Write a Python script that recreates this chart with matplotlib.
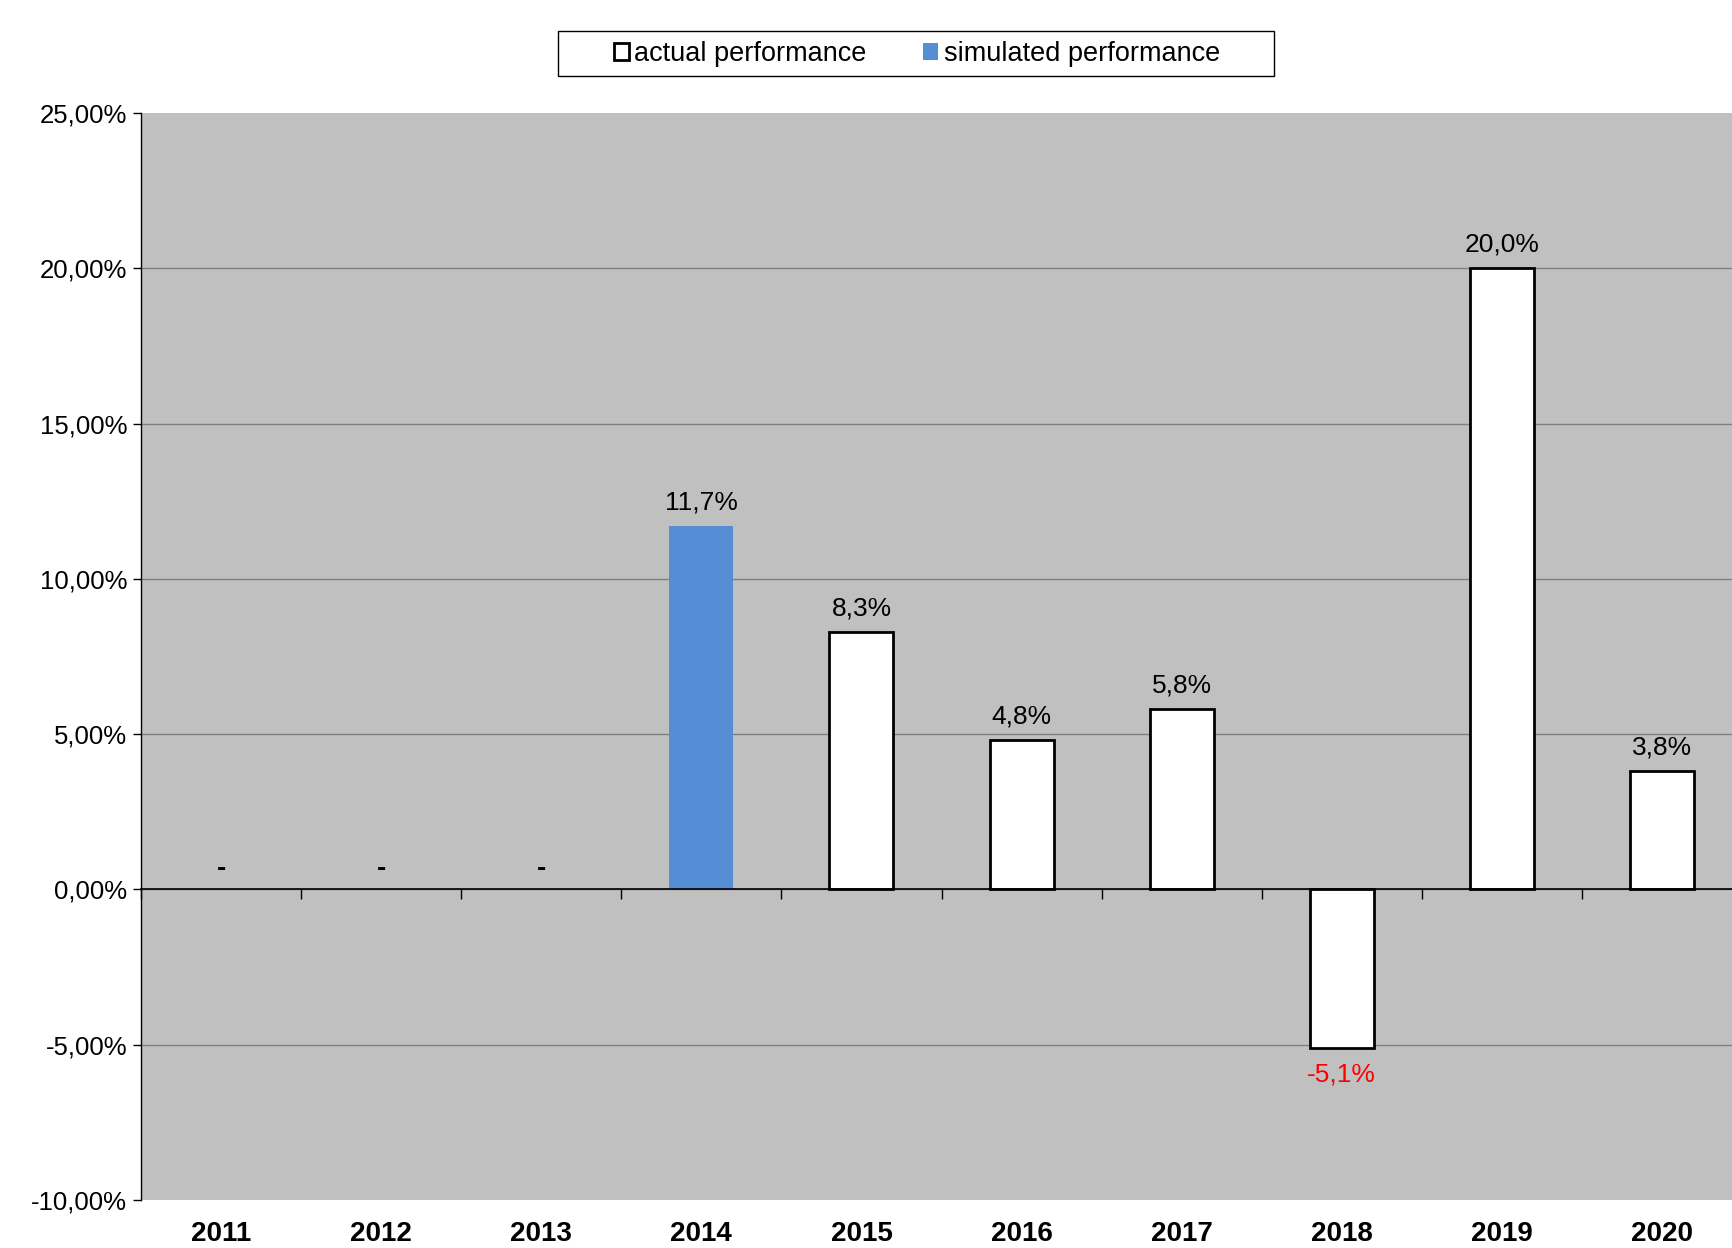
import matplotlib
matplotlib.use("Agg")
import matplotlib.pyplot as plt
from matplotlib.patches import Patch, Rectangle
import numpy as np

plt.rcParams["font.family"] = ["Liberation Sans", "DejaVu Sans"]

years = ["2011", "2012", "2013", "2014", "2015", "2016", "2017", "2018", "2019", "2020"]
# None = no data (shown as "-")
actual = [None, None, None, None, 8.3, 4.8, 5.8, -5.1, 20.0, 3.8]
simulated = [None, None, None, 11.7, None, None, None, None, None, None]

BG = "#c0c0c0"
BLUE = "#558ed5"

fig = plt.figure(figsize=(17.32, 12.48), dpi=100)
ax = fig.add_axes([141 / 1732, 48 / 1248, 1601 / 1732, 1087 / 1248])
ax.set_facecolor(BG)

x = np.arange(len(years))
width = 0.4

for i in x:
    if simulated[i] is not None:
        ax.bar(i, simulated[i], width, color=BLUE, edgecolor="none", zorder=3)
    if actual[i] is not None:
        ax.bar(i, actual[i], width, color="white", edgecolor="black",
               linewidth=2.0, zorder=3)

# value labels
for i in x:
    v = actual[i] if actual[i] is not None else simulated[i]
    if v is None:
        ax.annotate("-", (i, 0), xytext=(0, 15), textcoords="offset points",
                    ha="center", va="center", fontsize=20, fontweight="bold")
        continue
    txt = f"{v:.1f}%".replace(".", ",")
    if v >= 0:
        ax.annotate(txt, (i, v), xytext=(0, 17), textcoords="offset points",
                    ha="center", va="center", fontsize=19)
    else:
        ax.annotate(txt, (i, v), xytext=(0, -19), textcoords="offset points",
                    ha="center", va="center", fontsize=19, color="red")

ax.set_ylim(-10, 25)
ax.set_xlim(-0.5, len(years) - 0.5)
yt = np.arange(-10, 26, 5)
ax.set_yticks(yt)
ax.set_yticklabels([f"{t:.2f}%".replace(".", ",") for t in yt], fontsize=18.5)
# gridlines only inside the plot area (none on the top/bottom edges)
ax.hlines(yt[1:-1], -0.5, len(years) - 0.5, color="#808080", linewidth=1.0, zorder=1)
ax.tick_params(axis="y", direction="out", length=6, width=1, pad=4)

for s in ["top", "right"]:
    ax.spines[s].set_visible(False)
ax.spines["left"].set_color("black")
ax.spines["left"].set_linewidth(1.0)
ax.spines["bottom"].set_position(("data", 0))
ax.spines["bottom"].set_linewidth(1.2)
ax.spines["bottom"].set_zorder(4)

# category boundary ticks on the zero line
ax.set_xticks(x)
ax.set_xticklabels([])
ax.tick_params(axis="x", which="major", length=0)
ax.set_xticks(np.arange(-0.5, len(years), 1.0), minor=True)
ax.tick_params(axis="x", which="minor", direction="out", length=7, width=1)

sec = ax.secondary_xaxis("bottom")
sec.set_xticks(x)
sec.set_xticklabels(years, fontsize=20, fontweight="bold")
sec.tick_params(length=0, pad=15)
sec.spines["bottom"].set_visible(False)

# legend: wide box drawn separately, entries centred inside it
fig.patches.append(Rectangle((558 / 1732, 1 - 76 / 1248), 716 / 1732, 45 / 1248,
                             transform=fig.transFigure, facecolor="white",
                             edgecolor="black", linewidth=1.0, zorder=0))
handles = [
    Patch(facecolor="white", edgecolor="black", linewidth=2.0, label="actual performance"),
    Patch(facecolor=BLUE, edgecolor="none", label="simulated performance"),
]
leg = fig.legend(handles=handles, loc="center", bbox_to_anchor=(917 / 1732, 1 - 54 / 1248),
                 ncol=2, fontsize=19.5, frameon=False,
                 handlelength=0.55, handleheight=0.55, handletextpad=0.2,
                 columnspacing=2.1, borderpad=0.0, borderaxespad=0)

fig.savefig("out.png", dpi=100)
